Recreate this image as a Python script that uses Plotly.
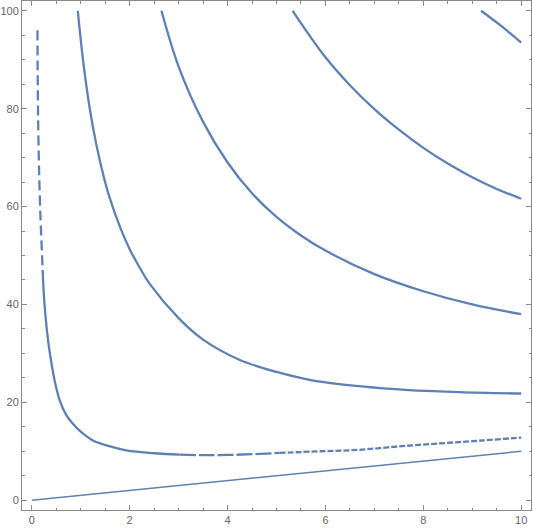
import plotly.graph_objects as go

# contour curves (x, y)
a_top_x = [0.116, 0.12, 0.13, 0.15, 0.18, 0.21, 0.23]
a_top_y = [96, 88, 77.6, 67, 57.1, 50, 45]
a_mid_x = [0.23, 0.26, 0.31, 0.37, 0.47, 0.57, 0.70, 0.84, 1.0, 1.25, 1.6, 1.93, 2.5, 3.02]
a_mid_y = [45, 40, 34.6, 30, 24.3, 20.4, 17.5, 15.6, 14.0, 12.2, 11.0, 10.2, 9.6, 9.3]
a_long_x = [3.02, 3.5, 4.0, 4.5, 5.06]
a_long_y = [9.3, 9.2, 9.25, 9.4, 9.66]
a_short_x = [5.06, 5.9, 6.69, 7.5, 8.33, 9.2, 10]
a_short_y = [9.66, 10.0, 10.3, 11.0, 11.6, 12.2, 12.8]

b_x = [0.94, 1.05, 1.18, 1.32, 1.49, 1.6, 1.8, 2.0, 2.2, 2.41, 3.0, 3.5, 4.24, 5.0, 5.73, 6.69, 7.7, 8.73, 10]
b_y = [100, 89.7, 80.3, 72.6, 65.3, 61.5, 55.9, 51.3, 47.6, 44.2, 37.2, 32.8, 28.7, 26.2, 24.5, 23.3, 22.5, 22.1, 21.8]

c_x = [2.65, 3.0, 3.5, 4.0, 4.5, 5.0, 5.5, 6.0, 7.0, 8.0, 9.0, 10]
c_y = [100, 88.6, 77.3, 69, 62.7, 57.9, 54.1, 51, 46.2, 42.7, 40, 38]

d_x = [5.33, 6.0, 6.5, 7.0, 7.5, 8.0, 8.5, 9.0, 9.5, 10]
d_y = [100, 90.5, 84.8, 79.9, 75.7, 72.0, 68.8, 66.0, 63.6, 61.6]

e_x = [9.18, 9.59, 10]
e_y = [100, 96.9, 93.5]

diag_x = [0, 10]
diag_y = [0, 10]

line_color = '#5E81B5'
frame_color = '#8a8a8a'

fig = go.Figure()


def add_curve(xs, ys, width=2.3, dash='solid'):
    fig.add_trace(go.Scatter(x=xs, y=ys, mode='lines',
                             line=dict(color=line_color, width=width, dash=dash, shape='spline', smoothing=1.0),
                             hoverinfo='skip'))


add_curve(a_top_x, a_top_y, dash='10px,5px')
add_curve(a_mid_x, a_mid_y)
add_curve(a_long_x, a_long_y, dash='16px,3px')
add_curve(a_short_x, a_short_y, dash='6px,2px')
add_curve(b_x, b_y)
add_curve(c_x, c_y)
add_curve(d_x, d_y)
add_curve(e_x, e_y)
add_curve(diag_x, diag_y, width=1.5)

axis_common = dict(
    showgrid=False,
    zeroline=False,
    showline=True,
    linecolor=frame_color,
    linewidth=1,
    mirror='ticks',
    ticks='inside',
    ticklen=5,
    tickwidth=1,
    tickcolor=frame_color,
    tickfont=dict(family='Liberation Sans, Arial, sans-serif', size=11, color='#666666'),
    automargin=False,
)

fig.update_layout(
    width=533,
    height=528,
    showlegend=False,
    plot_bgcolor='white',
    paper_bgcolor='white',
    margin=dict(l=22, r=2, t=1, b=18),
    xaxis=dict(axis_common, range=[-0.2, 10.2], tickmode='linear', tick0=0, dtick=2,
               minor=dict(ticks='inside', ticklen=2.5, tickcolor=frame_color, dtick=0.5, tick0=0, showgrid=False)),
    yaxis=dict(axis_common, range=[-2, 102], tickmode='linear', tick0=0, dtick=20,
               minor=dict(ticks='inside', ticklen=2.5, tickcolor=frame_color, dtick=5, tick0=0, showgrid=False)),
)

# the page body has a default 8px margin; drop it so the figure fills the window
fig.write_html("out.html", config={'displayModeBar': False},
               post_script="document.body.style.margin='0';document.body.style.overflow='hidden';")
